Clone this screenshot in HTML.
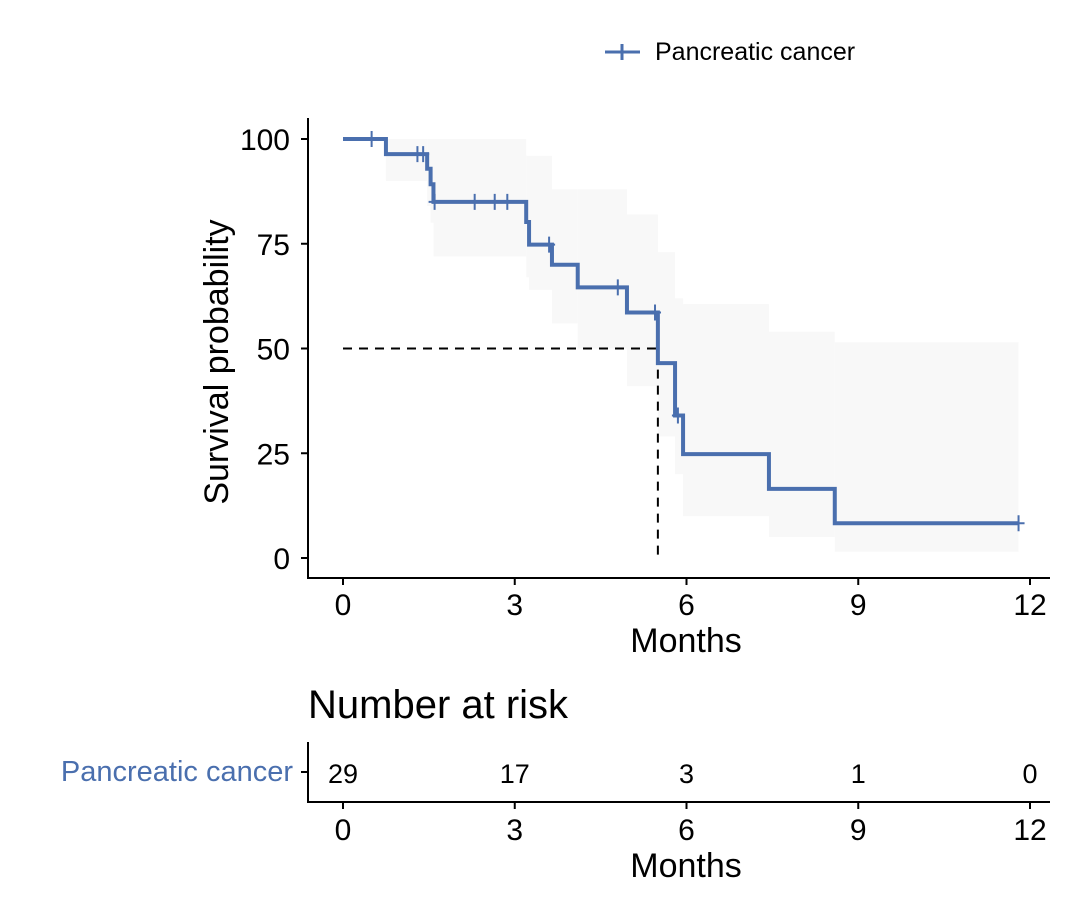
<!DOCTYPE html>
<html><head><meta charset="utf-8"><style>
body{margin:0;background:#fff}
svg text{font-family:"Liberation Sans",sans-serif}
</style></head><body>
<svg id="c" width="1080" height="900" viewBox="0 0 1080 900">
<g id="bands"></g>
<g id="axes"></g>
<g id="marks"></g>
</svg>
<script>
const times=[0,0.75,1.47,1.53,1.58,3.2,3.25,3.65,4.1,4.96,5.5,5.8,5.94,7.44,8.59];
const surv=[100,96.4,92.9,89.2,85.0,80.2,74.8,70.0,64.6,58.6,46.5,34.0,24.8,16.5,8.3];
const upper=[100,100,100,100,100,96,96,88,88,82,73,62,60.6,54,51.5];
const lower=[100,90,84,80,72,67,64,56,50,41,29,20,10,5,1.5];
const censorT=[0.5,1.3,1.4,1.6,2.3,2.65,2.87,3.6,4.8,5.45,5.85,11.8];
const endT=11.8;
const xTicks=[0,3,6,9,12];
const yTicks=[0,25,50,75,100];
const riskT=[0,3,6,9,12];
const riskN=[29,17,3,1,0];
const median=5.5;
const NS="http://www.w3.org/2000/svg";
const X=m=>343+m*57.25, Y=s=>558-s*4.19;
function el(tag,attrs,parent,txt){const e=document.createElementNS(NS,tag);for(const k in attrs)e.setAttribute(k,attrs[k]);if(txt!==undefined)e.textContent=txt;parent.appendChild(e);return e;}
const B=document.getElementById('bands'),A=document.getElementById('axes'),M=document.getElementById('marks');
for(let i=0;i<times.length;i++){const t0=times[i],t1=i+1<times.length?times[i+1]:endT;
const r=el('rect',{x:X(t0),y:Y(upper[i]),width:X(t1)-X(t0),height:Y(lower[i])-Y(upper[i]),fill:'#f8f8f8'},B);

}
const md=el('path',{d:`M${X(0)},${Y(50)}H${X(median)}V${Y(0)}`,fill:'none',stroke:'#000','stroke-width':2,'stroke-dasharray':'9,7'},M);


let d=`M${X(0)},${Y(surv[0])}`;
for(let i=1;i<times.length;i++){d+=`H${X(times[i])}V${Y(surv[i])}`;}
d+=`H${X(endT)}`;
const cv=el('path',{d:d,fill:'none',stroke:'#4a6fae','stroke-width':4},M);


function survAt(t){let s=surv[0];for(let i=0;i<times.length;i++)if(times[i]<=t)s=surv[i];return s;}
censorT.forEach(t=>{const c=el('path',{d:`M${X(t)},${Y(survAt(t))-8}v16M${X(t)-6},${Y(survAt(t))}h12`,stroke:'#4a6fae','stroke-width':2},M);

});
el('path',{d:'M308,118V578H1050',fill:'none',stroke:'#000','stroke-width':2},A);
yTicks.forEach(v=>{el('line',{x1:301,x2:308,y1:Y(v),y2:Y(v),stroke:'#000','stroke-width':2},A);
const t=el('text',{x:290,y:Y(v)+11,'text-anchor':'end','font-size':30},A,v);

});
xTicks.forEach(v=>{el('line',{x1:X(v),x2:X(v),y1:578,y2:585,stroke:'#000','stroke-width':2},A);
const t=el('text',{x:X(v),y:615,'text-anchor':'middle','font-size':30},A,v);

});
el('path',{d:'M308,742V802H1050',fill:'none',stroke:'#000','stroke-width':2},A);
el('line',{x1:301,x2:308,y1:772,y2:772,stroke:'#000','stroke-width':2},A);
riskT.forEach((v,i)=>{const t=el('text',{x:X(v),y:783,'text-anchor':'middle','font-size':27},A,riskN[i]);


el('line',{x1:X(v),x2:X(v),y1:802,y2:809,stroke:'#000','stroke-width':2},A);
const l=el('text',{x:X(v),y:840,'text-anchor':'middle','font-size':30},A,v);

});
</script>
<svg style="position:absolute;left:0;top:0" width="1080" height="900">
<text x="686" y="652" text-anchor="middle" font-size="34">Months</text>
<text transform="translate(228,362) rotate(-90)" text-anchor="middle" font-size="34">Survival probability</text>
<g><path d="M605,52h35M622,44v16" stroke="#4a6fae" stroke-width="3"/>
<text x="655" y="60" font-size="25">Pancreatic cancer</text></g>
<text x="308" y="718" font-size="40">Number at risk</text>
<text x="293" y="781" text-anchor="end" font-size="29" fill="#4a6fae">Pancreatic cancer</text>
<text x="686" y="877" text-anchor="middle" font-size="34">Months</text>
</svg>
</body></html>
